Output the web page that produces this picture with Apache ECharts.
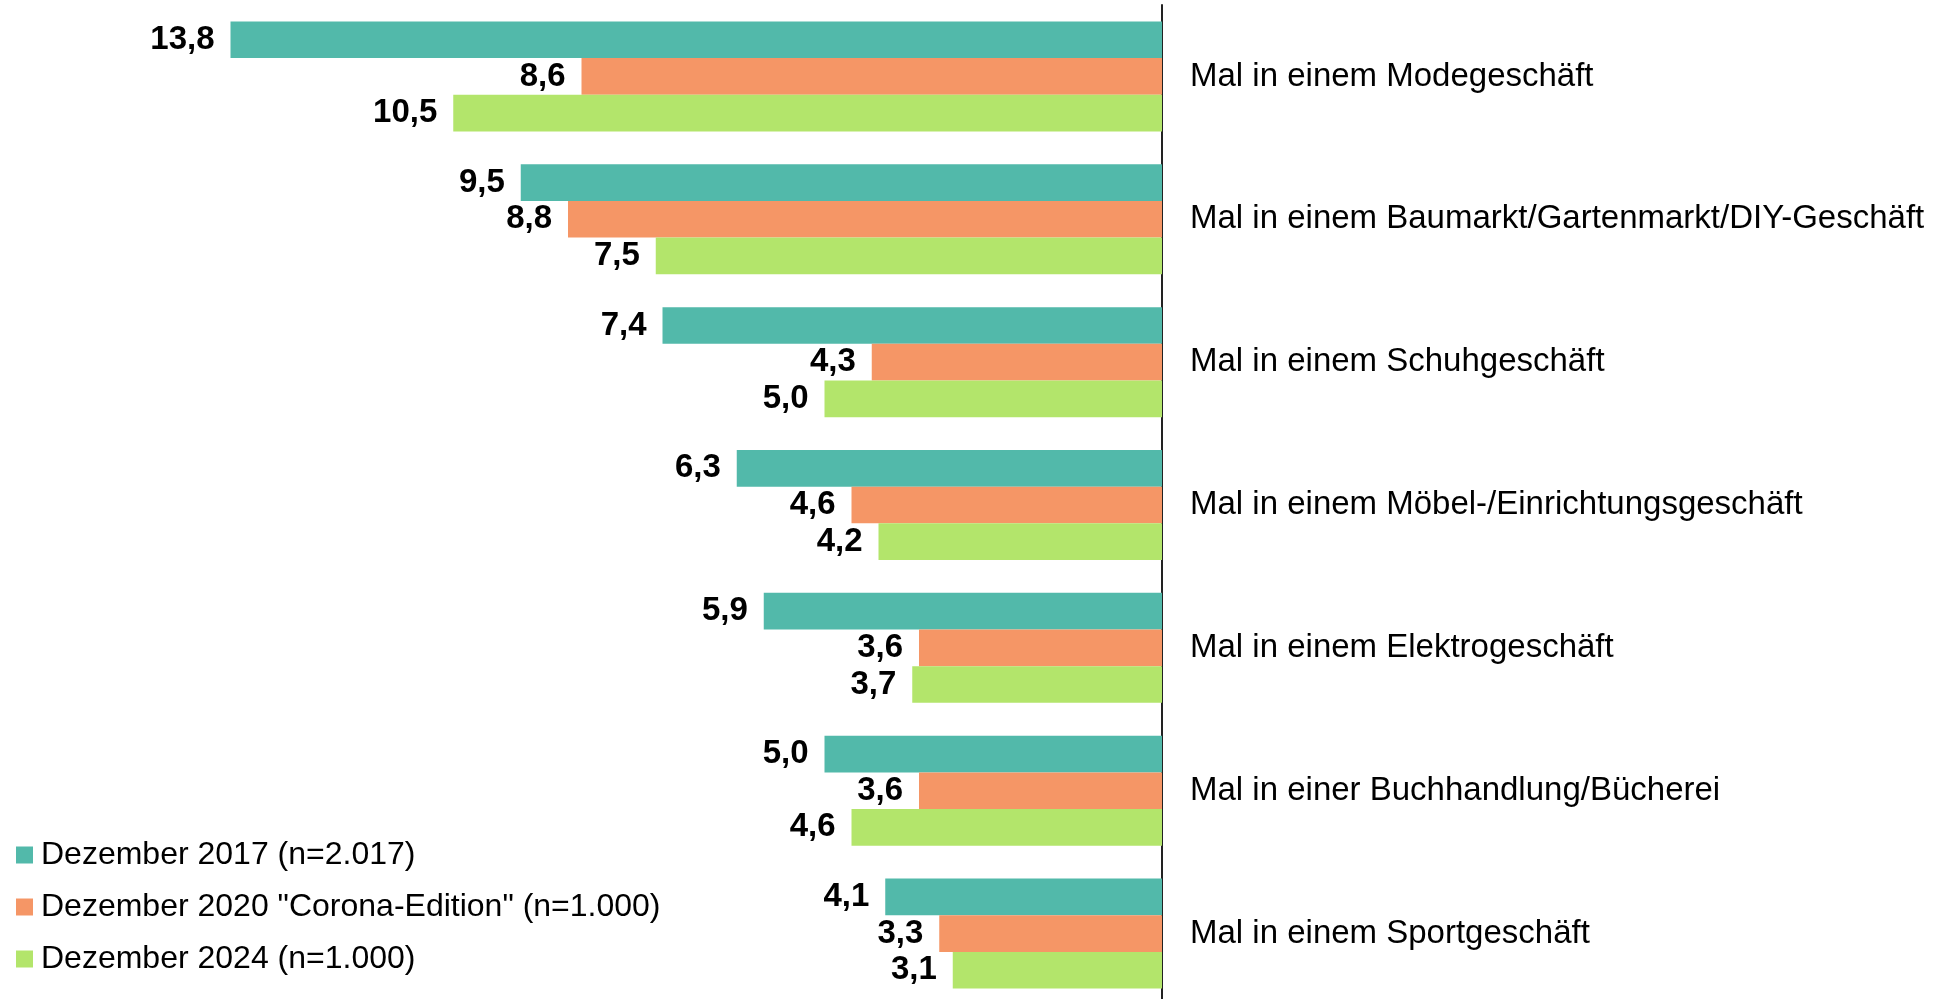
<!DOCTYPE html>
<html>
<head>
<meta charset="utf-8">
<script src="https://cdn.jsdelivr.net/npm/echarts@6/dist/echarts.min.js"></script>
<style>
html,body{margin:0;padding:0;background:#fff;}
#c{width:1954px;height:999px;}
</style>
</head>
<body>
<div id="c"></div>
<script>
const categories = [
  "Mal in einem Modegeschäft",
  "Mal in einem Baumarkt/Gartenmarkt/DIY-Geschäft",
  "Mal in einem Schuhgeschäft",
  "Mal in einem Möbel-/Einrichtungsgeschäft",
  "Mal in einem Elektrogeschäft",
  "Mal in einer Buchhandlung/Bücherei",
  "Mal in einem Sportgeschäft"
];
const seriesNames = [
  "Dezember 2017 (n=2.017)",
  "Dezember 2020 \"Corona-Edition\" (n=1.000)",
  "Dezember 2024 (n=1.000)"
];
const values2017 = [13.8, 9.5, 7.4, 6.3, 5.9, 5.0, 4.1];
const values2020 = [8.6, 8.8, 4.3, 4.6, 3.6, 3.6, 3.3];
const values2024 = [10.5, 7.5, 5.0, 4.2, 3.7, 4.6, 3.1];
const colors = ["#52B9AA", "#F59666", "#B3E56B"];

const font = "'Liberation Sans', Arial, sans-serif";
const chart = echarts.init(document.getElementById('c'));
const allValues = [values2017, values2020, values2024];
chart.setOption({
  animation: false,
  backgroundColor: '#ffffff',
  grid: { left: 217, right: 792, top: 5, height: 1000, containLabel: false, outerBoundsMode: 'none' },
  legend: {
    orient: 'vertical',
    left: 11,
    top: 834,
    icon: 'rect',
    itemWidth: 17,
    itemHeight: 17,
    itemGap: 20,
    textStyle: { fontFamily: font, fontSize: 32, color: '#000', lineHeight: 30, padding: [0, 0, 0, 3] },
    data: seriesNames
  },
  xAxis: {
    type: 'value',
    inverse: true,
    min: 0,
    max: 14,
    show: false
  },
  yAxis: {
    type: 'category',
    position: 'right',
    inverse: true,
    data: categories,
    axisLine: { show: true, lineStyle: { color: '#222', width: 2 } },
    axisTick: { show: false },
    axisLabel: { margin: 28, fontFamily: font, fontSize: 33, color: '#000', padding: [5, 0, 0, 0] },
    splitLine: { show: false }
  },
  series: seriesNames.map((name, i) => ({
    name: name,
    type: 'bar',
    data: allValues[i],
    barGap: '0%',
    barCategoryGap: '23%',
    itemStyle: { color: colors[i] },
    label: {
      show: true,
      position: 'left',
      distance: 16,
      fontFamily: font,
      fontSize: 33,
      fontWeight: 'bold',
      color: '#000',
      padding: [5, 0, 0, 0],
      formatter: p => p.value.toFixed(1).replace('.', ',')
    }
  }))
});
</script>
</body>
</html>
